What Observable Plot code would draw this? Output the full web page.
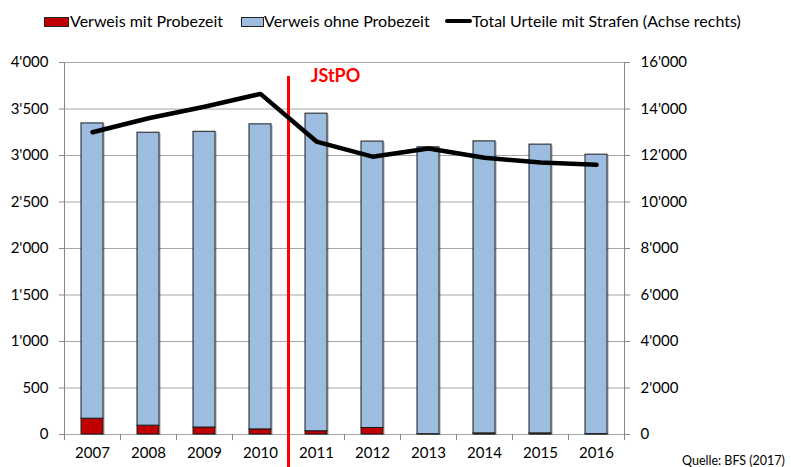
<!DOCTYPE html>
<html>
<head>
<meta charset="utf-8">
<script src="https://cdn.jsdelivr.net/npm/d3@7"></script>
<script src="https://cdn.jsdelivr.net/npm/@observablehq/plot@0.6"></script>
<style>
  body { margin: 0; background: #fff; font-family: Lato, "Open Sans", sans-serif; }
  #wrap { position: relative; width: 791px; height: 467px; overflow: hidden; }
  .leg { position: absolute; top: 11px; font-size: 16px; color: #000; white-space: nowrap; line-height: 20px; }
  .sw { position: absolute; }
  #caption { position: absolute; left: 682px; top: 453px; font-size: 12.5px; color: #000; white-space: nowrap; }
</style>
</head>
<body>
<div id="wrap">
  <div class="sw" style="left:44px;top:17px;width:23px;height:8px;background:#C00000;border:1px solid #222;"></div>
  <div class="leg" style="left:70px;">Verweis mit Probezeit</div>
  <div class="sw" style="left:241px;top:17px;width:21px;height:8px;background:#9DBDE0;border:1px solid #222;"></div>
  <div class="leg" style="left:264px;">Verweis ohne Probezeit</div>
  <div class="sw" style="left:445px;top:19px;width:27px;height:4px;background:#000;border-radius:2px;"></div>
  <div class="leg" style="left:472px;">Total Urteile mit Strafen (Achse rechts)</div>
  <div id="chart"></div>
  <div id="caption">Quelle: BFS (2017)</div>
</div>
<script>
const years = ["2007","2008","2009","2010","2011","2012","2013","2014","2015","2016"];
const verweisMit = [170, 95, 75, 55, 35, 70, 3, 12, 12, 4];
const verweisOhne = [3175, 3150, 3180, 3280, 3415, 3080, 3085, 3140, 3105, 3005];
const totalUrteile = [13000, 13600, 14100, 14650, 12600, 11950, 12300, 11900, 11700, 11600];
const leftTicks = [0, 500, 1000, 1500, 2000, 2500, 3000, 3500, 4000];
const rightRatio = 4; // right axis = left axis * 4
const reformLabel = "JStPO";
const reformAfter = "2010";
const reformTop = 3850;

const loc = d3.formatLocale({decimal: ".", thousands: "'", grouping: [3], currency: ["", ""]});
const fmt = loc.format(",");

const bars = [];
years.forEach((y, i) => {
  bars.push({year: y, serie: "Verweis mit Probezeit", value: verweisMit[i]});
  bars.push({year: y, serie: "Verweis ohne Probezeit", value: verweisOhne[i]});
});
const line = years.map((y, i) => ({year: y, value: totalUrteile[i] / rightRatio}));

const W = 791, H = 467, mL = 64, mR = 167;
const step = (W - mL - mR) / years.length;

const chart = Plot.plot({
  width: W, height: H,
  marginLeft: mL, marginRight: mR, marginTop: 62, marginBottom: 33,
  style: {fontFamily: "Lato, sans-serif", fontSize: "15px", color: "#000", background: "transparent"},
  x: {domain: years, paddingInner: 0.6, paddingOuter: 0.3, align: 0.5},
  y: {domain: [0, 4000]},
  color: {domain: ["Verweis mit Probezeit", "Verweis ohne Probezeit"], range: ["#C00000", "#9DBDE0"]},
  marks: [
    Plot.gridY(leftTicks, {stroke: "#a6a6a6", strokeOpacity: 1, strokeWidth: 1}),
    Plot.ruleY([0], {stroke: "#a6a6a6", strokeWidth: 1}),
    Plot.axisY(leftTicks, {anchor: "left", tickSize: 5, tickPadding: 11, tickFormat: fmt, stroke: "#888", fontSize: 15, label: null}),
    Plot.axisY(leftTicks, {anchor: "right", tickSize: 5, tickPadding: 11, tickFormat: d => fmt(d * rightRatio), stroke: "#888", fontSize: 15, textAnchor: "start", label: null}),
    Plot.axisX({tickSize: 0, tickPadding: 13, fontSize: 15, label: null}),
    // tick marks at category boundaries
    Plot.ruleX(years, {x: d => d, dx: -step / 2, y1: 0, y2: -65, stroke: "#888"}),
    Plot.ruleX([years[years.length - 1]], {x: d => d, dx: step / 2, y1: -65, y2: 4000, stroke: "#888"}),
    Plot.ruleX([years[0]], {x: d => d, dx: -step / 2, y1: 0, y2: 4000, stroke: "#888"}),
    // shadows
    Plot.barY(bars, Plot.stackY({x: "year", y: "value", fill: "#000", fillOpacity: 0.18, dx: 2, dy: 1})),
    Plot.barY(bars, Plot.stackY({x: "year", y: "value", fill: "serie", stroke: "#1a1a1a", strokeWidth: 1})),
    Plot.ruleX([reformAfter], {x: d => d, dx: step / 2, y1: -360, y2: reformTop, stroke: "#FF0000", strokeWidth: 3}),
    Plot.text([reformLabel], {x: () => years[years.indexOf(reformAfter) + 1], y: reformTop, text: d => d, dx: 19, fill: "#FF0000", fontWeight: "bold", fontSize: 18}),
    Plot.lineY(line, {x: "year", y: "value", stroke: "#000", strokeWidth: 4.5, strokeLinejoin: "round", strokeLinecap: "round"})
  ]
});
document.getElementById("chart").appendChild(chart);
</script>
</body>
</html>
